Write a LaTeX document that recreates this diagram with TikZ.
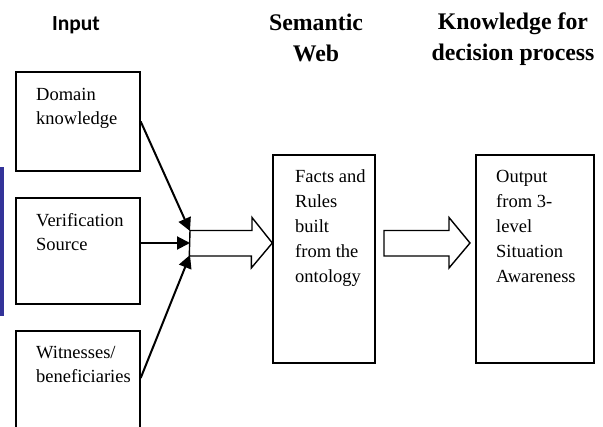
\documentclass[tikz,border=0pt]{standalone}
\usepackage{fontspec}
\setmainfont{Liberation Serif}
\newfontfamily\calib{Carlito}
\usetikzlibrary{arrows.meta,calc}
\definecolor{barblue}{RGB}{51,51,153}
\tikzset{
  boxnode/.style={draw, line width=1.4pt, inner sep=0pt},
  bodytxt/.style={anchor=base west, inner sep=0pt, align=left,
    font=\fontsize{18.5}{24.8}\selectfont},
  titletxt/.style={align=center, inner sep=0pt,
    font=\fontsize{23.8}{30.5}\selectfont\bfseries},
  feed/.style={line width=2pt, -{Triangle[length=13pt,width=13pt]}, shorten >=0pt},
  hollow/.style={draw, line width=1.4pt, line join=miter, fill=white}
}
\begin{document}
\begin{tikzpicture}[x=1pt,y=-1pt]
\useasboundingbox (0,0) rectangle (603,427);
\clip (0,0) rectangle (603,427);
% blue bar
\fill[barblue] (0,167) rectangle (3.5,316);
% titles
\node[inner sep=0pt, font=\fontsize{21.5}{26}\selectfont\calib\bfseries] (tin) at (76,25) {Input};
\node[titletxt] (tsw) at (316,38) {Semantic\\Web};
\node[titletxt] (tkd) at (513,39) {Knowledge for\\decision process};
% input boxes
\node[boxnode, minimum width=124pt, minimum height=99pt] (dk) at (78,121.5) {};
\node[boxnode, minimum width=124pt, minimum height=106pt] (vs) at (78,251) {};
\node[boxnode, minimum width=124pt, minimum height=120pt] (wb) at (78,391) {};
% text nodes: anchor at the baseline of the last line
\node[bodytxt] (dkt) at (36,125) {Domain\\knowledge};
\node[bodytxt] (vst) at (36,251) {Verification\\Source};
\node[bodytxt] (wbt) at (36,383) {Witnesses/\\beneficiaries};
% main boxes
\node[boxnode, minimum width=102pt, minimum height=208pt] (fr) at (324,259) {};
\node[boxnode, minimum width=118pt, minimum height=208pt] (out) at (535,259) {};
\node[bodytxt] (frt) at (295,282.2) {Facts and\\Rules\\built\\from the\\ontology};
\node[bodytxt] (outt) at (496,282.2) {Output\\from 3-\\level\\Situation\\Awareness};
% hollow arrows
\coordinate (h1) at (190,243);
\coordinate (h2) at (384,243);
\coordinate (h1tip) at (fr.west |- h1);
\coordinate (h2tip) at (470,243);
\draw[hollow] (h1) ++(0,-12.5) -- ++(62,0) -- ++(0,-13) -- (h1tip) -- ++(-21,25) -- ++(0,-12) -- ++(-62,0) -- cycle;
\draw[hollow] (h2) ++(0,-12.5) -- ++(65,0) -- ++(0,-13) -- (h2tip) -- ++(-21,25) -- ++(0,-12) -- ++(-65,0) -- cycle;
% feed arrows
\coordinate (t1) at (190,231);
\coordinate (t2) at (190,243);
\coordinate (t3) at (190,255);
\draw[feed] (dk.east) -- (t1);
\draw[feed] ($(vs.east)+(0,-8)$) -- (t2);
\draw[feed] ($(wb.east)+(0,-13)$) -- (t3);
\end{tikzpicture}
\end{document}
